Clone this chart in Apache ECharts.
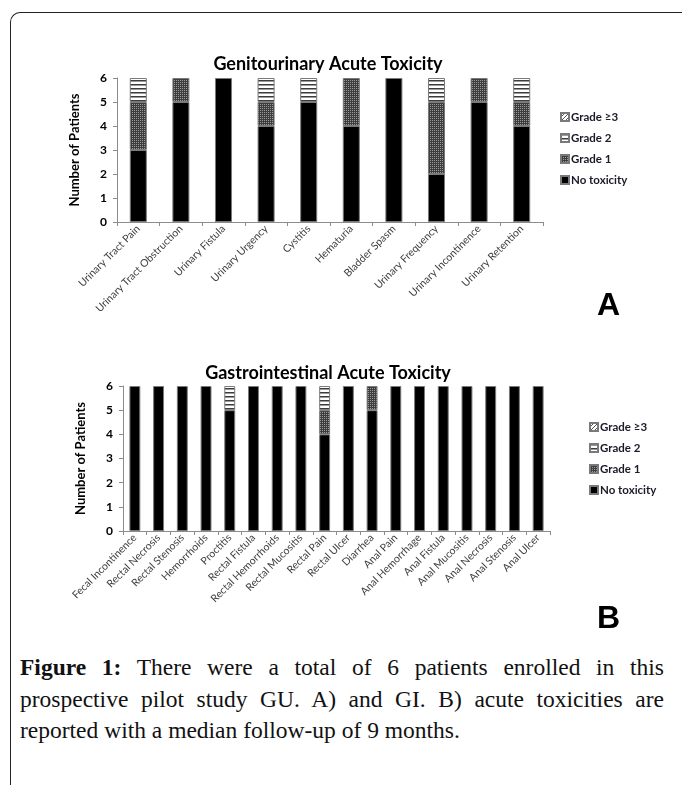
<!DOCTYPE html>
<html><head><meta charset="utf-8">
<script src="https://cdn.jsdelivr.net/npm/echarts@6/dist/echarts.min.js"></script>
<style>
html,body{margin:0;padding:0;background:#fff;width:682px;height:785px;overflow:hidden;}
#frame{position:absolute;left:10px;top:12px;width:700px;height:800px;border-left:1.5px solid #222;border-top:1.5px solid #222;border-top-left-radius:10px;}
#chart{position:absolute;left:0;top:0;width:682px;height:640px;}
#cap{position:absolute;left:20px;top:652px;width:644px;font-family:"Liberation Serif","DejaVu Serif",serif;font-size:23.5px;line-height:31.5px;color:#111;white-space:nowrap;}
#cap div.j{text-align:justify;text-align-last:justify;}
#cap b{font-weight:bold;}
</style></head><body>
<div id="frame"></div>
<div id="chart"></div>
<div id="cap">
<div class="j"><b>Figure 1:</b> There were a total of 6 patients enrolled in this</div>
<div class="j">prospective pilot study GU. A) and GI. B) acute toxicities are</div>
<div>reported with a median follow-up of 9 months.</div>
</div>
<script>
// ---- data ----
const guCategories = ['Urinary Tract Pain','Urinary Tract Obstruction','Urinary Fistula','Urinary Urgency','Cystitis','Hematuria','Bladder Spasm','Urinary Frequency','Urinary Incontinence','Urinary Retention'];
const guNoTox = [3,5,6,4,5,4,6,2,5,4];
const guGrade1 = [2,1,0,1,0,2,0,3,1,1];
const guGrade2 = [1,0,0,1,1,0,0,1,0,1];
const guGrade3 = [0,0,0,0,0,0,0,0,0,0];

const giCategories = ['Fecal Incontinence','Rectal Necrosis','Rectal Stenosis','Hemorrhoids','Proctitis','Rectal Fistula','Rectal Hemorrhoids','Rectal Mucositis','Rectal Pain','Rectal Ulcer','Diarrhea','Anal Pain','Anal Hemorrhage','Anal Fistula','Anal Mucositis','Anal Necrosis','Anal Stenosis','Anal Ulcer'];
const giNoTox = [6,6,6,6,5,6,6,6,4,6,5,6,6,6,6,6,6,6];
const giGrade1 = [0,0,0,0,0,0,0,0,1,0,1,0,0,0,0,0,0,0];
const giGrade2 = [0,0,0,0,1,0,0,0,1,0,0,0,0,0,0,0,0,0];
const giGrade3 = [0,0,0,0,0,0,0,0,0,0,0,0,0,0,0,0,0,0];

const yTicks = [0,1,2,3,4,5,6];
const seriesNames = ['No toxicity','Grade 1','Grade 2','Grade \u22653'];

// ---- patterns ----
function pat(kind){
  const c=document.createElement('canvas');
  const ctx=c.getContext('2d');
  if(kind==='g1'){
    c.width=2;c.height=2;
    ctx.fillStyle='#3d3d3d';ctx.fillRect(0,0,2,2);
    ctx.fillStyle='#9c9c9c';ctx.fillRect(0,0,1,1);
  } else if(kind==='g2'){
    c.width=4;c.height=4;
    ctx.fillStyle='#ffffff';ctx.fillRect(0,0,4,4);
    ctx.fillStyle='#3c3c3c';ctx.fillRect(0,0,4,1);
    ctx.fillStyle='#9a9a9a';ctx.fillRect(0,1,4,1);
  } else {
    c.width=4;c.height=4;
    ctx.fillStyle='#ffffff';ctx.fillRect(0,0,4,4);
    ctx.fillStyle='#555';
    for(let i=0;i<4;i++){ctx.fillRect(3-i,i,1,1);}
  }
  return {image:c,repeat:'repeat'};
}
const fills=['#000000',pat('g1'),pat('g2'),pat('g3')];
const nz = a => a.map(v => v===0 ? '-' : v);

const FONT='Lato';
function makeSeries(arrs, idx, stack, bw){
  return arrs.map((a,i)=>({
    name:seriesNames[i], type:'bar', stack:stack, xAxisIndex:idx, yAxisIndex:idx,
    barWidth:bw, data:nz(a),
    itemStyle:{color:fills[i], borderColor:'#7a7a7a', borderWidth:1},
    emphasis:{disabled:true}
  }));
}
function yAx(idx){
  return {gridIndex:idx,type:'value',min:0,max:6,interval:1,
    name:'Number of Patients',nameLocation:'middle',nameGap:36,
    nameTextStyle:{fontFamily:FONT,fontWeight:'bold',fontSize:13,color:'#000'},
    axisLine:{show:true,lineStyle:{color:'#8c8c8c'}},
    axisTick:{show:true,length:4,lineStyle:{color:'#8c8c8c'}},
    splitLine:{show:false},
    axisLabel:{fontFamily:FONT,fontWeight:'bold',fontSize:12,color:'#000',margin:10,
      formatter:v=>String(yTicks[yTicks.indexOf(v)])}};
}
function xAx(idx,cats){
  return {gridIndex:idx,type:'category',data:cats,
    axisLine:{lineStyle:{color:'#8c8c8c'}},
    axisTick:{show:true,length:4,interval:0,lineStyle:{color:'#8c8c8c'}},
    axisLabel:{interval:0,rotate:45,fontFamily:FONT,fontSize:10.5,color:'#404040',margin:5}};
}
function legend(left,top){
  return {orient:'vertical',left:left,top:top,itemWidth:8,itemHeight:8,itemGap:9,
    icon:'rect',data:[seriesNames[3],seriesNames[2],seriesNames[1],seriesNames[0]],
    textStyle:{fontFamily:FONT,fontWeight:'bold',fontSize:11.5,color:'#1b1b2a',padding:[0,0,0,-3]},
    selectedMode:false};
}

const chart=echarts.init(document.getElementById('chart'),null,{renderer:'canvas'});
chart.setOption({
  animation:false,
  title:[
    {text:'Genitourinary Acute Toxicity',left:323,top:50,textAlign:'center',
      textStyle:{fontFamily:FONT,fontWeight:'bold',fontSize:18,color:'#000'}},
    {text:'Gastrointestinal Acute Toxicity',left:323,top:359,textAlign:'center',
      textStyle:{fontFamily:FONT,fontWeight:'bold',fontSize:18,color:'#000'}}
  ],
  legend:[legend(555,106),legend(584,416)],
  grid:[
    {left:117,top:78,width:426,height:144},
    {left:123,top:386,width:427,height:145}
  ],
  xAxis:[xAx(0,guCategories),xAx(1,giCategories)],
  yAxis:[yAx(0),yAx(1)],
  series:[].concat(
    makeSeries([guNoTox,guGrade1,guGrade2,guGrade3],0,'gu','40%'),
    makeSeries([giNoTox,giGrade1,giGrade2,giGrade3],1,'gi','46%')
  ),
  graphic:[
    {type:'text',left:597,top:290,style:{text:'A',font:'bold 32px "Liberation Sans", Arial, sans-serif',fill:'#000'}},
    {type:'text',left:597,top:603,style:{text:'B',font:'bold 32px "Liberation Sans", Arial, sans-serif',fill:'#000'}}
  ]
});
</script>
</body></html>
